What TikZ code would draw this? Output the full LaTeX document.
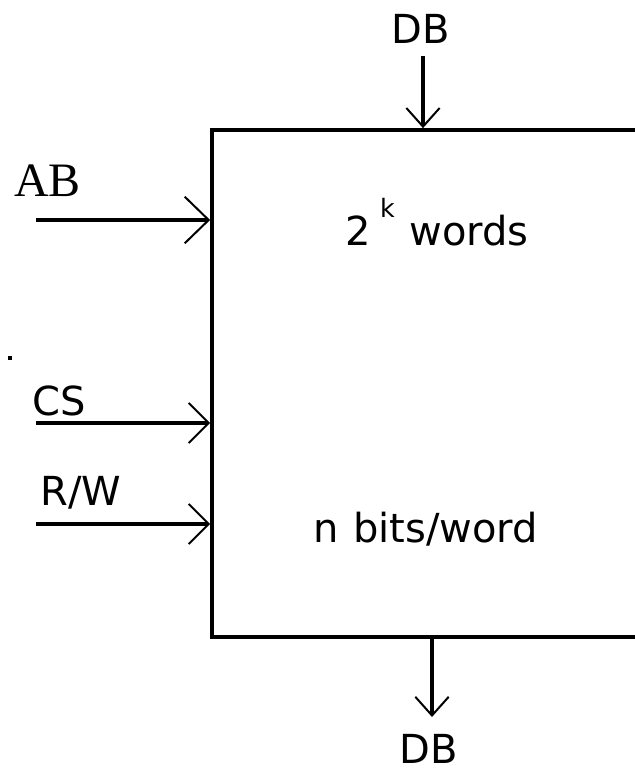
\documentclass[tikz,border=0pt]{standalone}
\usepackage{fontspec}
\setmainfont{DejaVu Sans}
\newfontfamily\serifab{Liberation Serif}
\usetikzlibrary{arrows.meta}
\begin{document}
\begin{tikzpicture}[x=0.75pt,y=-0.75pt,
  lbl/.style={inner sep=0pt, font=\fontsize{30}{32}\selectfont},
  memory/.style={draw, line width=2.8pt, minimum width=366pt, minimum height=380.25pt, inner sep=0pt},
  bus/.style={line width=2.8pt},
  tipA/.style={-{Straight Barb[length=18pt, width=35pt, line width=1.5pt]}},
  tipS/.style={-{Straight Barb[length=15pt, width=30pt, line width=1.5pt]}},
  tipD/.style={-{Straight Barb[length=14pt, width=25pt, line width=1.5pt]}}]
\path[use as bounding box] (0,0) rectangle (635,771);
\clip (0,0) rectangle (635,771);

% memory block (its right side runs off the page)
\node[memory] (mem) at (456,383.5) {};

% labels inside the block
\node[lbl, anchor=base west] (words) at (345,245)
  {2\hspace{7pt}\raisebox{0.68em}{\fontsize{19}{19}\selectfont k}\hspace{11pt}words};
\node[lbl, anchor=base west] (bits) at (313,542) {n\hspace{11pt}bits/word};

% input signals
\node[lbl, anchor=base west, inner sep=0pt, font=\serifab\fontsize{36}{38}\selectfont] (ab) at (14,196) {AB};
\node[lbl, anchor=base west] (cs) at (32,415) {CS};
\node[lbl, anchor=base west] (rw) at (40,505) {R/W};
\coordinate (abS) at (36,220);
\coordinate (csS) at (36,423);
\coordinate (rwS) at (36,524);
\draw[bus, tipA] (abS) -- (abS -| mem.west);
\draw[bus, tipS] (csS) -- (csS -| mem.west);
\draw[bus, tipS] (rwS) -- (rwS -| mem.west);

% data bus in and out
\node[lbl, anchor=base] (dbin) at (421,43) {DB};
\node[lbl, anchor=base] (dbout) at (429,763) {DB};
\coordinate (dbT) at (423,56);
\coordinate (dbB) at (432,717);
\draw[bus, tipD] (dbT) -- (dbT |- mem.north);
\draw[bus, tipD] (dbB |- mem.south) -- (dbB);

% stray mark at the left
\fill (8,356) rectangle (12,360);
\end{tikzpicture}
\end{document}
